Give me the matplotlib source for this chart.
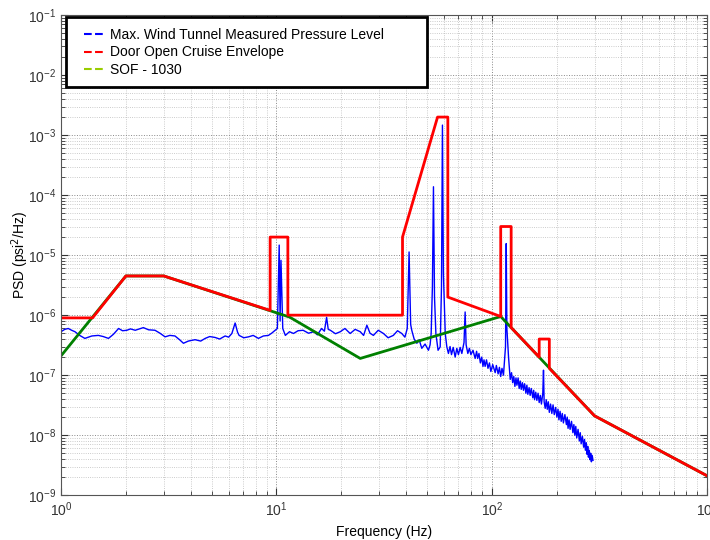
import matplotlib
matplotlib.use("Agg")
import matplotlib.pyplot as plt
from matplotlib.lines import Line2D
from matplotlib.patches import Rectangle

plt.rcParams['font.family'] = ['Liberation Sans', 'DejaVu Sans']

# measured spectrum (Hz, psi^2/Hz)
blue_freq = [1.00, 1.04, 1.08, 1.12, 1.16, 1.22, 1.29, 1.34, 1.39, 1.49, 1.57, 1.66, 1.75, 1.85, 1.93,
             2.02, 2.10, 2.21, 2.31, 2.41, 2.55, 2.73, 2.88, 3.04, 3.20, 3.38, 3.55, 3.70, 3.90, 4.19,
             4.45, 4.67, 4.90, 5.19, 5.45, 5.78, 6.00, 6.21, 6.43, 6.60, 6.71, 7.05, 7.42, 7.80, 8.25,
             8.70, 9.18, 9.50, 9.86, 10.1, 10.3, 10.4, 10.5, 10.7, 11.0, 11.5, 12.0, 12.6, 13.3, 14.1,
             14.9, 15.5, 16.2, 16.7, 17.1, 17.4, 17.8, 18.8, 19.8, 20.8, 22.0, 23.2, 24.5, 25.4, 26.3,
             27.2, 28.2, 29.7, 31.4, 33.0, 34.9, 36.5, 38.2, 39.5, 40.5, 41.3, 42.0, 42.5, 43.6, 44.9,
             46.0, 47.3, 49.0, 50.8, 51.7, 52.3, 53.0, 53.6, 54.2, 55.0, 56.3, 57.6, 58.4, 59.0, 59.6,
             60.8, 61.8, 62.9, 64.0, 65.0, 66.2, 67.6, 68.8, 70.0, 71.3, 72.6, 74.3, 75.2, 76.0, 77.4,
             78.7, 80.0, 81.8, 83.7, 85.0, 86.0, 87.2, 88.5, 89.8, 91.0, 92.0, 93.1, 94.5, 96.0, 97.5,
             99.0, 101.0, 103.7, 105.0, 107.0, 108.5, 110.0, 111.5, 113.3, 115.8, 116.7, 117.5, 119.6, 121.8, 123.5,
             125.0, 126.5, 128.0, 129.5, 130.8, 132.5, 134.0, 135.5, 137.0, 138.7, 140.3, 142.0, 144.0, 145.5, 147.0,
             149.0, 150.7, 152.5, 155.0, 156.5, 158.0, 160.0, 161.9, 164.0, 166.0, 168.0, 170.0, 172.5, 173.8, 175.0,
             177.0, 179.0, 181.0, 183.0, 185.0, 187.5, 190.0, 192.5, 195.0, 198.0, 200.6, 203.0, 205.0, 207.5, 210.0,
             212.5, 215.0, 218.5, 222.0, 224.0, 226.0, 228.5, 231.0, 234.5, 238.0, 240.5, 243.0, 245.5, 248.0, 251.5,
             255.0, 257.5, 260.0, 263.5, 267.0, 269.5, 272.0, 274.5, 277.0, 279.0, 281.0, 283.5, 286.0, 288.0, 290.0,
             292.5, 295.0]
blue_psd = [5.3e-7, 5.8e-7, 6.0e-7, 5.6e-7, 5.3e-7, 4.6e-7, 4.1e-7, 4.3e-7, 4.5e-7, 4.6e-7, 4.4e-7, 4.1e-7, 4.8e-7, 6.0e-7, 5.5e-7,
            5.6e-7, 5.9e-7, 5.6e-7, 5.9e-7, 6.2e-7, 5.7e-7, 5.6e-7, 5.0e-7, 4.35e-7, 4.6e-7, 4.5e-7, 3.9e-7, 3.4e-7, 3.7e-7, 3.9e-7,
            3.7e-7, 4.1e-7, 4.4e-7, 4.25e-7, 4.0e-7, 4.5e-7, 4.3e-7, 4.95e-7, 7.4e-7, 5.2e-7, 4.6e-7, 4.2e-7, 4.35e-7, 4.6e-7, 4.1e-7,
            4.5e-7, 4.6e-7, 5.0e-7, 5.6e-7, 6.0e-7, 1.47e-5, 8.0e-7, 8.2e-6, 6.0e-7, 4.6e-7, 5.3e-7, 4.95e-7, 5.5e-7, 5.6e-7, 5.0e-7,
            5.3e-7, 4.7e-7, 6.0e-7, 5.4e-7, 9.2e-7, 5.8e-7, 5.6e-7, 4.9e-7, 5.3e-7, 6.0e-7, 4.95e-7, 5.8e-7, 5.3e-7, 4.6e-7, 6.8e-7,
            5.0e-7, 4.6e-7, 5.6e-7, 4.95e-7, 4.2e-7, 4.6e-7, 5.5e-7, 4.95e-7, 4.3e-7, 6.0e-7, 1.13e-5, 7.0e-7, 5.6e-7, 4.0e-7, 3.4e-7,
            3.9e-7, 2.8e-7, 3.3e-7, 2.6e-7, 3.2e-7, 4.95e-7, 3.0e-6, 1.38e-4, 2.0e-6, 4.95e-7, 2.6e-7, 2.96e-7, 3.0e-6, 1.47e-3, 5.0e-6,
            4.95e-7, 3.0e-7, 2.3e-7, 3.0e-7, 2.2e-7, 2.9e-7, 2.0e-7, 2.8e-7, 2.2e-7, 2.9e-7, 2.3e-7, 3.5e-7, 1.13e-6, 3.2e-7, 2.3e-7,
            2.8e-7, 2.2e-7, 2.6e-7, 1.9e-7, 2.5e-7, 1.9e-7, 2.3e-7, 1.6e-7, 2.0e-7, 1.4e-7, 1.8e-7, 1.4e-7, 1.8e-7, 1.3e-7, 1.6e-7,
            1.15e-7, 1.5e-7, 1.1e-7, 1.45e-7, 1.05e-7, 1.35e-7, 9.5e-8, 1.3e-7, 1.0e-7, 3.0e-7, 1.56e-5, 6.0e-7, 2.0e-7, 8.5e-8, 1.1e-7,
            7.5e-8, 9.5e-8, 6.5e-8, 9.0e-8, 6.8e-8, 9.0e-8, 6.0e-8, 8.0e-8, 5.8e-8, 7.5e-8, 5.6e-8, 7.2e-8, 5.0e-8, 6.8e-8, 4.8e-8,
            6.2e-8, 4.6e-8, 6.0e-8, 4.2e-8, 5.6e-8, 3.9e-8, 5.2e-8, 3.8e-8, 5.0e-8, 3.5e-8, 4.6e-8, 3.3e-8, 5.0e-8, 1.21e-7, 3.6e-8,
            2.8e-8, 3.9e-8, 2.7e-8, 3.6e-8, 2.4e-8, 3.3e-8, 2.3e-8, 3.2e-8, 2.2e-8, 2.9e-8, 2.0e-8, 2.7e-8, 1.8e-8, 2.5e-8, 1.7e-8,
            2.3e-8, 1.6e-8, 2.2e-8, 1.5e-8, 2.0e-8, 1.3e-8, 1.8e-8, 1.25e-8, 1.7e-8, 1.1e-8, 1.5e-8, 1.0e-8, 1.4e-8, 9.0e-9, 1.25e-8,
            8.0e-9, 1.1e-8, 7.2e-9, 9.5e-9, 6.3e-9, 8.5e-9, 5.6e-9, 7.5e-9, 4.8e-9, 6.5e-9, 4.3e-9, 5.6e-9, 3.9e-9, 5.0e-9, 3.6e-9,
            4.6e-9, 3.8e-9]

# door open cruise envelope
red_freq = [1, 1.4, 2, 3, 9.35, 9.35, 11.3, 11.3, 38.5, 38.5, 56, 62.5, 62.5, 110, 110, 123, 123,
            166, 166, 185, 185, 300, 1000]
red_psd = [9e-7, 9e-7, 4.5e-6, 4.5e-6, 1.2e-6, 2e-5, 2e-5, 1e-6, 1e-6, 2e-5, 2e-3, 2e-3, 2e-6, 9.5e-7, 3e-5, 3e-5, 6.2e-7,
           2e-7, 4e-7, 4e-7, 1.3e-7, 2.1e-8, 2.1e-9]

# SOF - 1030
green_freq = [1, 2, 3, 11.5, 24.5, 110, 300, 1000]
green_psd = [2.1e-7, 4.5e-6, 4.5e-6, 9.3e-7, 1.9e-7, 9.5e-7, 2.1e-8, 2.1e-9]

labels = ["Max. Wind Tunnel Measured Pressure Level", "Door Open Cruise Envelope", "SOF - 1030"]

fig = plt.figure(figsize=(7.1, 5.4), dpi=100)
ax = fig.add_axes([0.086, 0.083, 0.910, 0.889])

ax.loglog(blue_freq, blue_psd, color="blue", lw=1.0)
ax.loglog(green_freq, green_psd, color="#008000", lw=2.0)
ax.loglog(red_freq, red_psd, color="red", lw=2.0)

ax.set_xlim(1, 1000)
ax.set_ylim(1e-9, 1e-1)

ax.grid(True, which="major", ls=":", color="#888888", lw=0.7)
ax.grid(True, which="minor", ls=":", color="#bbbbbb", lw=0.6)
ax.tick_params(which="both", direction="in", top=True, right=True, colors="#333333", labelsize=10)
ax.tick_params(which="major", length=5)
ax.tick_params(which="minor", length=3)
for s in ax.spines.values():
    s.set_color("#555555")

ax.set_xlabel("Frequency (Hz)", fontsize=10)
ax.set_ylabel("PSD (psi$^2$/Hz)", fontsize=10)
ax.xaxis.set_label_coords(0.5, -0.062)
ax.yaxis.set_label_coords(-0.047, 0.5)

# legend box drawn by hand, MATLAB style (wide, thick black frame)
box = Rectangle((66 / 710, 1 - 87 / 540), (427 - 66) / 710, (87 - 17) / 540, transform=fig.transFigure,
                facecolor="white", edgecolor="black", lw=2.0, zorder=5)
fig.patches.append(box)

handles = [Line2D([], [], color="blue", ls="--", lw=1.5),
           Line2D([], [], color="red", ls="--", lw=1.5),
           Line2D([], [], color="#99cc00", ls="--", lw=1.5)]
leg = fig.legend(handles, labels, loc="upper left", bbox_to_anchor=(84 / 710, 1 - 28 / 540), fontsize=10,
                 frameon=False, handlelength=1.4, handletextpad=0.5, borderpad=0.0, labelspacing=0.25,
                 borderaxespad=0.0)
leg.set_zorder(6)

fig.savefig("out.png", dpi=100)
